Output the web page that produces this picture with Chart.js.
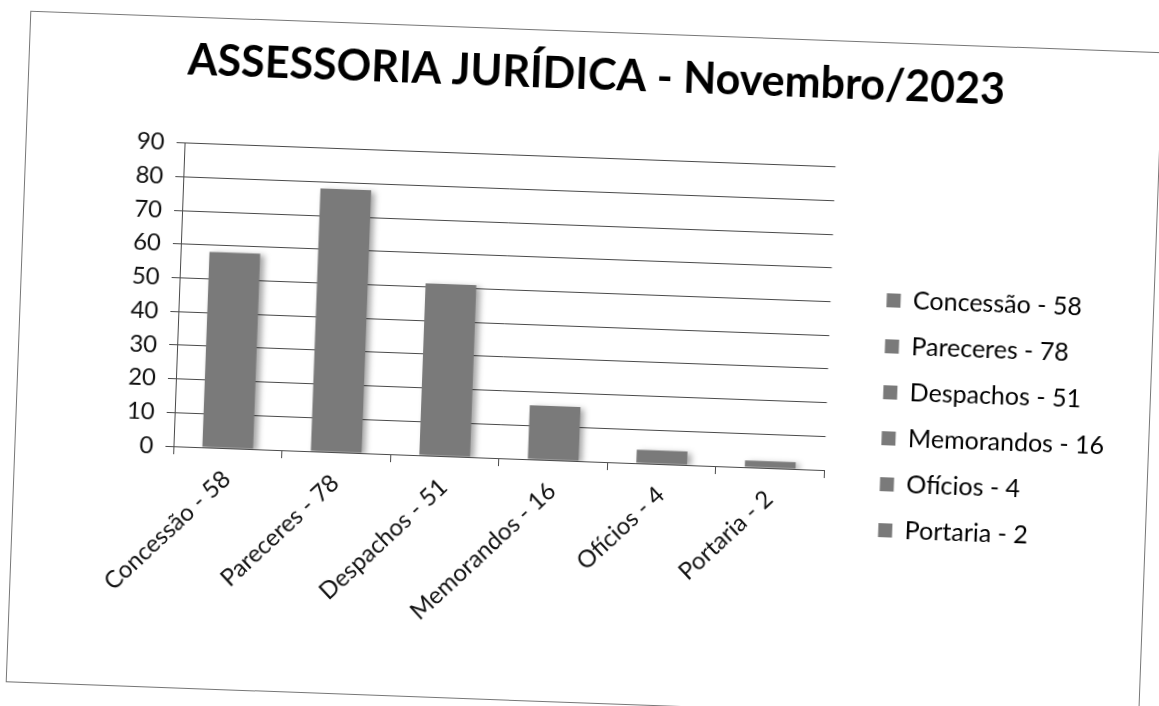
<!DOCTYPE html>
<html>
<head>
<meta charset="utf-8">
<script src="https://cdn.jsdelivr.net/npm/chart.js@4/dist/chart.umd.min.js"></script>
<style>
  html, body { margin: 0; padding: 0; background: #fff; overflow: hidden; }
  #sheet {
    position: absolute;
    left: 8px;
    top: 23px;
    width: 1142px;
    height: 668px;
    transform: rotate(2.1deg);
    transform-origin: center center;
  }
  #border {
    position: absolute;
    left: 10px;
    top: 8px;
    width: 1132px;
    height: 670px;
    border: 1px solid #777;
  }
  #barChart { position: absolute; left: 0; top: 0; }
</style>
</head>
<body>
<div id="sheet">
  <div id="border"></div>
  <canvas id="barChart" width="1142" height="668"></canvas>
</div>
<script>
const categories = ["Concessão - 58", "Pareceres - 78", "Despachos - 51", "Memorandos - 16", "Ofícios - 4", "Portaria - 2"];
const values = [58, 78, 51, 16, 4, 2];
const yTicks = [0, 10, 20, 30, 40, 50, 60, 70, 80, 90];

const barGray = "#7a7a7a";
const lineGray = "#4a4a4a";
const legendGap = 35;
const legendDrop = 67;

// widen the legend box, push its items right and lower them a little
const legendGapPlugin = {
  id: "legendGap",
  afterInit(chart) {
    const lg = chart.legend;
    const fit = lg.fit.bind(lg);
    lg.fit = function () {
      fit();
      this.width += legendGap;
    };
  },
  afterLayout(chart) {
    const lg = chart.legend;
    lg.left += legendGap;
    lg.top += legendDrop;
    lg.bottom += legendDrop;
  },
};

// soft shadow on the bars, like the Excel original
const barShadowPlugin = {
  id: "barShadow",
  beforeDatasetsDraw(chart) {
    const c = chart.ctx;
    c.save();
    c.shadowColor = "rgba(0,0,0,0.35)";
    c.shadowBlur = 6;
    c.shadowOffsetX = 4;
    c.shadowOffsetY = 2;
  },
  afterDatasetsDraw(chart) {
    chart.ctx.restore();
  },
};

let barChartInstance = null;
function createBarChart() {
  const ctx = document.getElementById("barChart");

  if (barChartInstance) {
    barChartInstance.destroy();
  }

  barChartInstance = new Chart(ctx, {
    type: "bar",
    data: {
      labels: categories,
      datasets: [
        {
          label: "Assessoria Jurídica",
          data: values,
          backgroundColor: barGray,
          borderWidth: 0,
          categoryPercentage: 0.55,
          barPercentage: 0.85,
        },
      ],
    },
    plugins: [legendGapPlugin, barShadowPlugin],
    options: {
      responsive: false,
      animation: false,
      layout: {
        padding: { left: 47, right: 33, top: 0, bottom: 40 },
      },
      plugins: {
        title: {
          display: true,
          text: "ASSESSORIA JURÍDICA - Novembro/2023",
          color: "#000",
          font: { family: "Lato", size: 43, weight: "bold" },
          padding: { top: 26, bottom: 57 },
        },
        legend: {
          position: "right",
          labels: {
            color: "#111",
            font: { family: "Lato", size: 25 },
            boxWidth: 14,
            boxHeight: 14,
            padding: 21,
            generateLabels: function () {
              return categories.map((c) => ({
                text: c,
                fillStyle: barGray,
                strokeStyle: barGray,
                lineWidth: 0,
              }));
            },
          },
        },
        tooltip: { enabled: false },
      },
      scales: {
        x: {
          afterFit: function (scale) {
            scale.height = 190;
          },
          grid: {
            offset: true,
            drawOnChartArea: false,
            color: lineGray,
            tickLength: 8,
          },
          border: { color: lineGray },
          ticks: {
            color: "#111",
            font: { family: "Lato", size: 24 },
            minRotation: 45,
            maxRotation: 45,
            autoSkip: false,
            padding: 9,
          },
        },
        y: {
          min: 0,
          max: 90,
          afterFit: function (scale) {
            scale.width = 122;
          },
          afterBuildTicks: function (scale) {
            scale.ticks = yTicks.map((v) => ({ value: v }));
          },
          grid: {
            color: lineGray,
            tickLength: 8,
          },
          border: { color: lineGray },
          ticks: {
            color: "#111",
            font: { family: "Lato", size: 24 },
            padding: 12,
          },
        },
      },
    },
  });
}

createBarChart();
</script>
</body>
</html>
